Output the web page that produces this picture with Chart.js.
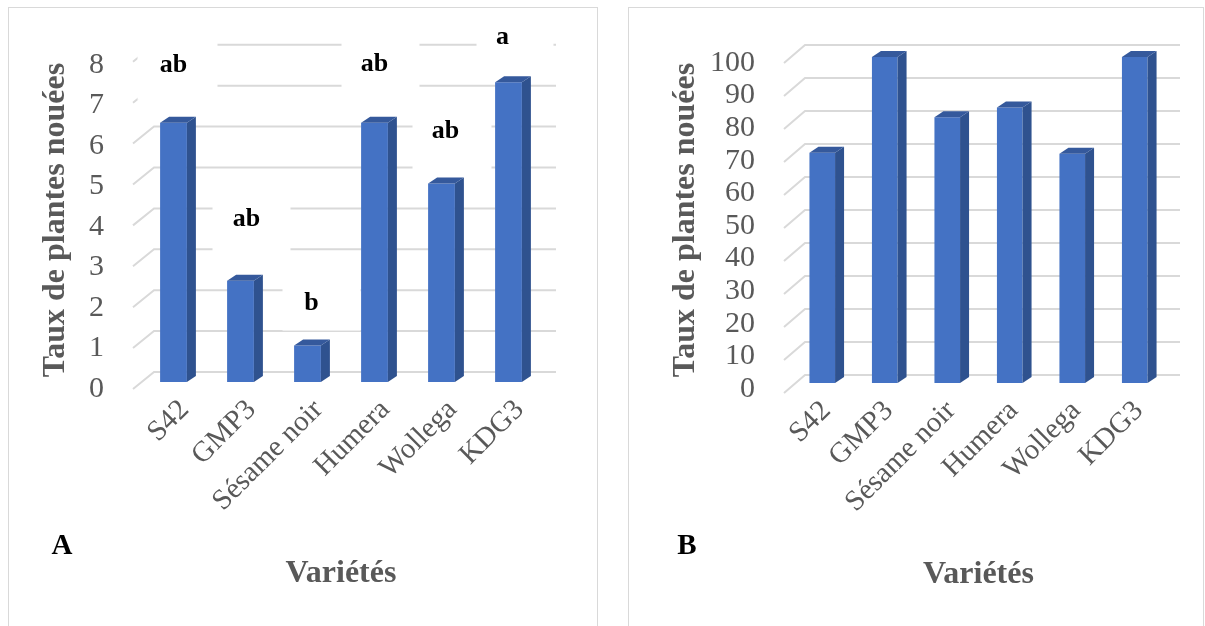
<!DOCTYPE html>
<html>
<head>
<meta charset="utf-8">
<script src="https://cdn.jsdelivr.net/npm/chart.js@4.4.0/dist/chart.umd.min.js"></script>
<style>
    body { margin: 0; width: 1205px; height: 626px; overflow: hidden; background: #fff; position: relative; }
    .frame { position: absolute; border: 1px solid #d9d9d9; box-sizing: border-box; z-index: 2; }
    .box { position: absolute; top: 0; height: 626px; z-index: 1; }
</style>
</head>
<body>
<div class="box" style="left:0;width:610px"><canvas id="chartA"></canvas></div>
<div class="box" style="left:612px;width:593px"><canvas id="chartB"></canvas></div>
<div class="frame" style="left:8px;top:7px;width:590px;height:640px"></div>
<div class="frame" style="left:628px;top:7px;width:576px;height:640px"></div>
<script>
        // data
        let varietes = ['S42', 'GMP3', 'Sésame noir', 'Humera', 'Wollega', 'KDG3'];
        let taux_a = [6.4, 2.5, 0.9, 6.4, 4.9, 7.4];
        let taux_b = [70.6, 100, 81.5, 84.5, 70.3, 100];
        let lettres_a = ['ab', 'ab', 'b', 'ab', 'ab', 'a'];

        let serif = "'Liberation Serif', 'Times New Roman', serif";
        let grey = '#595959';

        // fake excel 3D look: back wall gridlines, side and top faces of the bars
        function excel_3d(cfg){
            return {
                id: 'excel3d',
                beforeDatasetsDraw(chart){
                    let ctx = chart.ctx, y = chart.scales.y, a = chart.chartArea;
                    let b0 = y.getPixelForValue(0);
                    ctx.save();
                    ctx.strokeStyle = '#d9d9d9';
                    ctx.lineWidth = 2;
                    y.ticks.forEach(t => {
                        let yb = b0 - cfg.wallDy - (b0 - y.getPixelForValue(t.value)) * cfg.wallScale;
                        ctx.beginPath();
                        ctx.moveTo(a.left - 7, yb + cfg.stubDy);
                        ctx.lineTo(a.left + 14, yb);
                        ctx.lineTo(a.right + 14, yb);
                        ctx.stroke();
                    });
                    // white text boxes hiding the gridlines
                    if(cfg.letters){
                        let bars = chart.getDatasetMeta(0).data;
                        ctx.fillStyle = '#fff';
                        cfg.letters.forEach((l, i) => {
                            let cx = bars[i].x + cfg.letterDx[i];
                            let cy = bars[i].y - cfg.letterGap[i];
                            let bx = cfg.boxes[i];
                            ctx.fillRect(cx + bx[0], cy + bx[1], bx[2] - bx[0], bx[3] - bx[1]);
                        });
                    }
                    ctx.restore();
                },
                afterDatasetsDraw(chart){
                    let ctx = chart.ctx;
                    ctx.save();
                    chart.getDatasetMeta(0).data.forEach(bar => {
                        let p = bar.getProps(['x', 'y', 'base', 'width'], true);
                        let l = p.x - p.width / 2, r = p.x + p.width / 2;
                        ctx.fillStyle = '#2f528f';
                        ctx.beginPath();
                        ctx.moveTo(r, p.y);
                        ctx.lineTo(r + cfg.dx, p.y + cfg.dy);
                        ctx.lineTo(r + cfg.dx, p.base + cfg.dy);
                        ctx.lineTo(r, p.base);
                        ctx.closePath();
                        ctx.fill();
                        ctx.fillStyle = '#35599c';
                        ctx.beginPath();
                        ctx.moveTo(l, p.y);
                        ctx.lineTo(l + cfg.dx, p.y + cfg.dy);
                        ctx.lineTo(r + cfg.dx, p.y + cfg.dy);
                        ctx.lineTo(r, p.y);
                        ctx.closePath();
                        ctx.fill();
                    });
                    ctx.restore();
                },
                afterDraw(chart){
                    let ctx = chart.ctx;
                    ctx.save();
                    ctx.fillStyle = '#000';
                    ctx.textAlign = 'center';
                    ctx.textBaseline = 'middle';
                    if(cfg.letters){
                        let bars = chart.getDatasetMeta(0).data;
                        ctx.font = 'bold 26px ' + serif;
                        cfg.letters.forEach((l, i) => {
                            ctx.fillText(l, bars[i].x + cfg.letterDx[i], bars[i].y - cfg.letterGap[i]);
                        });
                    }
                    ctx.font = 'bold 29px ' + serif;
                    ctx.fillText(cfg.panel, cfg.panelX, 547);
                    ctx.restore();
                }
            };
        }

        function make_options(max, step, yWidth, labelOff, xOff, titlePad, pad){
            return {
                responsive: true,
                maintainAspectRatio: false,
                animation: false,
                layout: { padding: pad },
                plugins: { legend: { display: false }, tooltip: { enabled: false } },
                scales: {
                    x: {
                        grid: { display: false },
                        border: { display: false },
                        ticks: {
                            color: grey,
                            font: { family: serif, size: 29 },
                            minRotation: 45,
                            maxRotation: 45,
                            autoSkip: false,
                            padding: 3,
                            labelOffset: xOff
                        },
                        title: {
                            display: true,
                            text: 'Variétés',
                            color: grey,
                            font: { family: serif, size: 32, weight: 'bold' },
                            padding: 0
                        },
                        afterFit: s => { s.height = 211; }
                    },
                    y: {
                        min: 0,
                        max: max,
                        grid: { display: false },
                        border: { display: false },
                        ticks: {
                            stepSize: step,
                            autoSkip: false,
                            color: grey,
                            font: { family: serif, size: 30 },
                            padding: 28,
                            labelOffset: labelOff
                        },
                        title: {
                            display: true,
                            text: 'Taux de plantes nouées',
                            color: grey,
                            font: { family: serif, size: 32, weight: 'bold' },
                            padding: { top: titlePad, bottom: 0 }
                        },
                        afterFit: s => { s.width = yWidth; }
                    }
                }
            };
        }

        let chart_a = new Chart(document.getElementById('chartA'), {
            type: 'bar',
            data: {
                labels: varietes,
                datasets: [{
                    data: taux_a,
                    backgroundColor: '#4472c4',
                    borderWidth: 0,
                    barPercentage: 0.4,
                    categoryPercentage: 1
                }]
            },
            options: make_options(8, 1, 140, 7, 11, 37, { left: 0, top: 58, right: 68, bottom: 33 }),
            plugins: [excel_3d({
                wallDy: 10, wallScale: 1.01, stubDy: 17, dx: 9, dy: -6,
                letters: lettres_a,
                letterGap: [58, 61, 42, 59, 52, 45],
                letterDx: [0, 6, 4, 0, 4, -6],
                boxes: [[-36, -36, 44, 35], [-34, -36, 44, 39], [-29, -35, 49, 27],
                        [-33, -36, 45, 35], [-33, -32, 46, 39], [-26, -29, 51, 22]],
                panel: 'A', panelX: 62
            })]
        });

        let chart_b = new Chart(document.getElementById('chartB'), {
            type: 'bar',
            data: {
                labels: varietes,
                datasets: [{
                    data: taux_b,
                    backgroundColor: '#4472c4',
                    borderWidth: 0,
                    barPercentage: 0.41,
                    categoryPercentage: 1
                }]
            },
            options: make_options(100, 10, 179, 6, 4, 55, { left: 0, top: 57, right: 39, bottom: 32 }),
            plugins: [excel_3d({
                wallDy: 8, wallScale: 1.012, stubDy: 18, dx: 9, dy: -6,
                panel: 'B', panelX: 75
            })]
        });
</script>
</body>
</html>
